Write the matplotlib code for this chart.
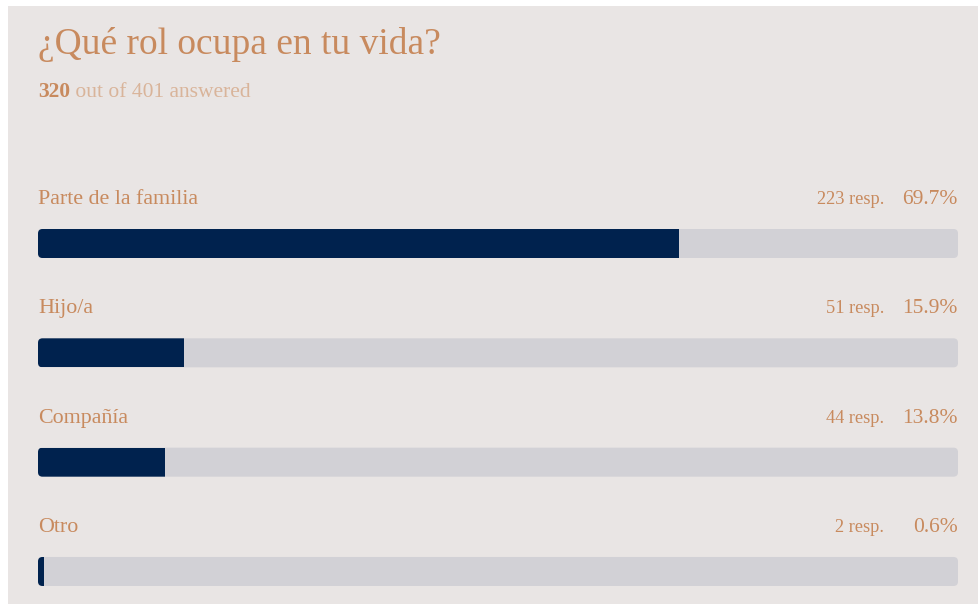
import matplotlib
matplotlib.use("Agg")
import matplotlib.pyplot as plt
from matplotlib.patches import FancyBboxPatch, Rectangle

# Survey results
title = "¿Qué rol ocupa en tu vida?"
answered = 320
total = 401
categories = ["Parte de la familia", "Hijo/a", "Compañía", "Otro"]
responses = [223, 51, 44, 2]
percents = [69.7, 15.9, 13.8, 0.6]

# Palette
BG = "#e9e5e4"
TRACK = "#d2d1d6"
FILL = "#00224e"
TEXT = "#c88a5e"
TEXT_LIGHT = "#d9b49a"
FONT = ["Liberation Serif", "DejaVu Serif"]

W, H, DPI = 979, 608, 100
fig = plt.figure(figsize=(W / DPI, H / DPI), dpi=DPI, facecolor="white")


def fx(px):
    return px / W


def fy(py):
    return 1 - py / H


# Card background
fig.patches.append(Rectangle((fx(8), fy(604)), fx(W) - fx(8), fy(6) - fy(604),
                             transform=fig.transFigure, facecolor=BG,
                             edgecolor="none", zorder=-5))

# Title and subtitle
fig.text(fx(38), fy(54), title, fontsize=27, color=TEXT, family=FONT,
         va="baseline", ha="left")
t_num = fig.text(fx(38), fy(97), f"{answered}", fontsize=15.5, color=TEXT,
                 family=FONT, weight="bold", va="baseline", ha="left")

sub_ax = fig.add_axes([0, 0, 1, 1], frameon=False)
sub_ax.set_axis_off()
sub_ax.annotate(f" out of {total} answered", xy=(1, 0), xycoords=t_num,
                fontsize=15.5, color=TEXT_LIGHT, family=FONT,
                va="bottom", ha="left")

# Bars axes: x in percent, y in row index
left_px, right_px = 38, 958
top_px, bottom_px = 170, 600
row_px = 109.33
row0_center = 243.5
bar_h_px = 29
n_rows = len(categories)
y_top = -(row0_center - top_px) / row_px
y_bot = (n_rows - 1) + (bottom_px - (row0_center + (n_rows - 1) * row_px)) / row_px

ax = fig.add_axes([fx(left_px), fy(bottom_px), fx(right_px) - fx(left_px),
                   fy(top_px) - fy(bottom_px)], frameon=False)
ax.set_xlim(0, 100)
ax.set_ylim(y_bot, y_top)
ax.set_axis_off()

px_per_x = (right_px - left_px) / 100
px_per_y = row_px
bar_h = bar_h_px / px_per_y
radius_px = 4.5
r_x = radius_px / px_per_x
aspect = px_per_x / px_per_y

label_gap = (row0_center - bar_h_px / 2 - 204) / px_per_y

for i, (cat, n, pct) in enumerate(zip(categories, responses, percents)):
    track = FancyBboxPatch((0, i - bar_h / 2), 100, bar_h,
                           boxstyle=f"round,pad=0,rounding_size={r_x}",
                           mutation_aspect=aspect, facecolor=TRACK,
                           edgecolor="none", zorder=1)
    ax.add_patch(track)
    bars = ax.barh([i], [pct], height=bar_h, left=0, color=FILL, zorder=2)
    for b in bars:
        b.set_clip_path(track)

    ly = i - bar_h / 2 - label_gap
    ax.text(0, ly, cat, fontsize=15.8, color=TEXT, family=FONT,
            va="baseline", ha="left")
    ax.text(100, ly, f"{pct:.1f}%", fontsize=15.5, color=TEXT, family=FONT,
            va="baseline", ha="right")
    ax.annotate(f"{n} resp.", xy=(100, ly), xytext=(-74, 0),
                textcoords="offset pixels", fontsize=13.2, color=TEXT,
                family=FONT, va="baseline", ha="right")

fig.savefig("out.png", dpi=DPI, facecolor="white")
